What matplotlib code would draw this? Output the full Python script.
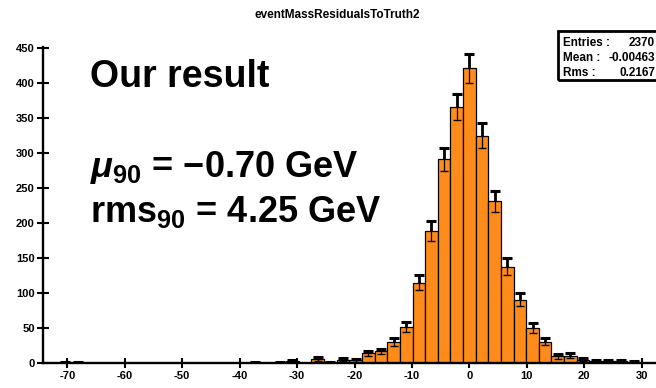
import numpy as np
import matplotlib
matplotlib.use("Agg")
from matplotlib import pyplot as plt
from matplotlib.patches import Rectangle

plt.rcParams['font.family'] = ['Liberation Sans', 'DejaVu Sans']
plt.rcParams['font.weight'] = 'bold'
plt.rcParams['axes.unicode_minus'] = False
plt.rcParams['mathtext.fontset'] = 'custom'
plt.rcParams['mathtext.rm'] = 'Liberation Sans:bold'
plt.rcParams['mathtext.it'] = 'Liberation Sans:italic:bold'
plt.rcParams['mathtext.bf'] = 'Liberation Sans:bold'

# residual histogram, 2.2 GeV bins (centres / counts)
bin_width = 2.2
centres = [-70.4, -68.2, -37.4, -33.0, -30.8, -26.4, -24.2, -22.0, -19.8,
           -17.6, -15.4, -13.2, -11.0, -8.8, -6.6, -4.4, -2.2, 0.0, 2.2,
           4.4, 6.6, 8.8, 11.0, 13.2, 15.4, 17.6, 19.8, 22.0, 24.2, 26.4,
           28.6]
counts = [1, 1, 1, 1, 3, 6, 1, 5, 4,
          14, 17, 30, 52, 115, 189, 291, 366, 421, 325,
          231, 138, 91, 51, 31, 10, 11, 5, 3, 3, 3,
          2]

x_ticks = [-70, -60, -50, -40, -30, -20, -10, 0, 10, 20, 30]
y_ticks = [0, 50, 100, 150, 200, 250, 300, 350, 400, 450]

hist_name = "eventMassResidualsToTruth2"
stats = [("Entries :", "2370"), ("Mean :", "-0.00463"), ("Rms :", "0.2167")]

W, H = 656, 388
fig = plt.figure(figsize=(W / 100, H / 100), dpi=100)
ax = fig.add_axes([42.7 / W, 24.7 / H, (W - 42.7) / W, (363.3 - 46.7) / H])

c = np.array(centres)
n = np.array(counts, dtype=float)
err = np.sqrt(n)

ax.bar(c, n, width=bin_width, color='#ff8c1a', edgecolor='black',
       linewidth=0.9, zorder=2)
# error bars: heavy above the bar, thin inside it
ax.vlines(c, n, n + err, color='black', lw=2.0, zorder=3)
ax.vlines(c, n - err, n, color='black', lw=0.9, zorder=3)
ax.plot(c, n + err, ls='none', marker='_', ms=7, mew=2.2, color='black', zorder=3)
ax.plot(c, n - err, ls='none', marker='_', ms=6, mew=1.0, color='black', zorder=3)

ax.set_xlim(-74.3, 32.5)
ax.set_ylim(0, 452)
ax.set_xticks(x_ticks)
ax.set_yticks(y_ticks)
ax.tick_params(axis='both', direction='inout', width=1.5, labelsize=8)
ax.tick_params(axis='y', length=8.5, pad=1.5)
ax.tick_params(axis='x', length=7.5, pad=2)
for lab in ax.get_xticklabels() + ax.get_yticklabels():
    lab.set_fontweight('bold')

for s in ['top', 'right']:
    ax.spines[s].set_visible(False)
for s in ['left', 'bottom']:
    ax.spines[s].set_linewidth(1.7)
ax.spines['bottom'].set_zorder(4)

def px(x, y):
    return x / W, 1 - y / H

fig.text(*px(337, 18), hist_name, fontsize=8.5, fontweight='bold',
         ha='center', va='baseline')

fig.text(*px(90, 87), "Our result", fontsize=27, fontweight='bold',
         va='baseline')
fig.text(*px(90, 177), r"$\mu_{90}$ = −0.70 GeV", fontsize=26,
         fontweight='bold', va='baseline')
fig.text(*px(90, 222), r"rms$_{90}$ = 4.25 GeV", fontsize=26,
         fontweight='bold', va='baseline')

# stats box
fig.patches.append(Rectangle(px(558.3, 80), 110 / W, 49 / H, fill=False,
                             lw=2.0, edgecolor='black',
                             transform=fig.transFigure, figure=fig))
for i, (name, val) in enumerate(stats):
    yb = 46.5 + 14.8 * i
    fig.text(*px(563, yb), name, fontsize=8.5, fontweight='bold', va='baseline')
    fig.text(*px(655, yb), val, fontsize=8.5, fontweight='bold', va='baseline',
             ha='right')

fig.savefig("out.png", dpi=100)
